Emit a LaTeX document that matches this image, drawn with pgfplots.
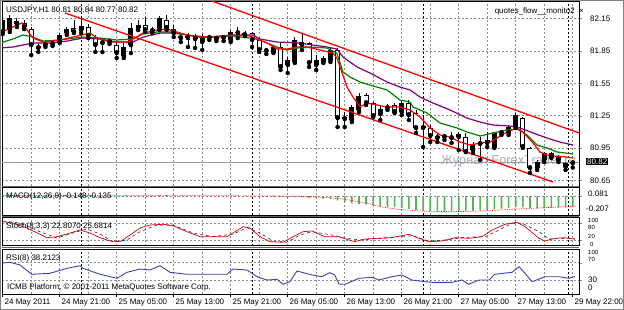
\documentclass[border=0pt]{standalone}
\usepackage{fontspec}
\setmainfont{Liberation Sans}
\usepackage{pgfplots}
\usepackage{pgfplotstable}
\pgfplotsset{compat=1.18}
\definecolor{mapurple}{RGB}{128,0,128}
\definecolor{magreen}{RGB}{0,128,0}
\definecolor{histgreen}{RGB}{90,175,90}
\definecolor{rsiblue}{RGB}{64,64,170}
\definecolor{stnavy}{RGB}{30,30,110}
\definecolor{pricegray}{RGB}{150,160,175}
\newcommand\ff{\fontsize{8}{9}\selectfont}
\newcommand\fs{\fontsize{6}{6.5}\selectfont}

\pgfplotstableread{
i o h l c
0 82.025 82.164 82.006 82.136
1 82.052 82.182 82.025 82.154
2 82.127 82.154 82.071 82.099
3 82.108 82.136 82.052 82.071
4 82.052 82.071 81.812 81.904
5 81.877 81.923 81.840 81.895
6 81.904 81.951 81.886 81.923
7 81.923 81.941 81.895 81.914
8 81.932 82.015 81.923 81.997
9 82.015 82.071 81.997 82.052
10 82.062 82.136 82.015 82.025
11 82.043 82.154 82.015 82.080
12 82.071 82.099 81.969 81.988
13 81.978 81.997 81.840 81.904
14 81.932 81.969 81.840 81.923
15 81.932 81.969 81.914 81.951
16 81.904 81.932 81.784 81.830
17 81.802 81.923 81.784 81.886
18 81.904 82.108 81.830 82.062
19 82.062 82.136 82.043 82.090
20 82.090 82.164 82.025 82.043
21 82.052 82.071 82.015 82.034
22 82.062 82.173 82.043 82.154
23 82.136 82.182 82.043 82.062
24 82.052 82.090 81.978 82.015
25 81.988 82.015 81.932 81.969
26 81.969 82.015 81.886 81.988
27 81.978 82.006 81.877 81.960
28 81.932 82.006 81.858 81.978
29 81.969 81.997 81.951 81.978
30 81.978 81.988 81.941 81.960
31 81.969 81.997 81.941 81.978
32 81.951 82.043 81.932 82.025
33 82.025 82.071 81.969 82.015
34 81.997 82.034 81.988 82.015
35 82.015 82.025 81.886 81.951
36 81.951 81.969 81.840 81.858
37 81.858 81.877 81.821 81.849
38 81.840 81.895 81.830 81.886
39 81.886 81.923 81.673 81.701
40 81.719 81.793 81.645 81.765
41 81.747 81.978 81.738 81.951
42 81.932 82.015 81.858 81.904
43 81.923 81.932 81.701 81.738
44 81.719 81.812 81.673 81.765
45 81.747 81.802 81.738 81.784
46 81.765 81.886 81.747 81.858
47 81.858 81.877 81.145 81.228
48 81.219 81.284 81.145 81.238
49 81.210 81.349 81.191 81.330
50 81.303 81.460 81.284 81.432
51 81.441 81.460 81.349 81.367
52 81.367 81.377 81.238 81.247
53 81.265 81.349 81.210 81.312
54 81.321 81.358 81.303 81.340
55 81.349 81.367 81.275 81.284
56 81.284 81.395 81.256 81.367
57 81.367 81.395 81.210 81.256
58 81.275 81.303 81.090 81.136
59 81.154 81.256 80.960 81.136
60 81.136 81.164 81.006 81.062
61 81.062 81.090 81.006 81.043
62 81.053 81.080 81.025 81.062
63 81.053 81.099 80.997 81.043
64 81.053 81.099 80.932 81.080
65 81.053 81.090 80.914 80.914
66 80.932 81.006 80.904 80.988
67 80.988 81.053 80.840 81.006
68 81.025 81.099 80.960 80.997
69 80.960 81.099 80.951 81.090
70 81.090 81.117 81.071 81.099
71 81.090 81.164 81.071 81.145
72 81.145 81.275 81.136 81.256
73 81.228 81.238 80.951 80.960
74 80.951 80.960 80.719 80.765
75 80.765 80.840 80.747 80.821
76 80.840 80.914 80.821 80.904
77 80.904 80.914 80.858 80.867
78 80.877 80.886 80.821 80.840
79 80.775 80.821 80.747 80.812
80 80.810 80.840 80.770 80.820
}\candles

\pgfplotstableread{
i v
0 0.010
1 0.012
2 0.012
3 0.010
4 0.004
5 -0.002
6 -0.004
7 -0.006
8 -0.004
9 0.000
10 0.004
11 0.006
12 0.004
13 -0.002
14 -0.004
15 -0.006
16 -0.008
17 -0.008
18 -0.002
19 0.004
20 0.008
21 0.010
22 0.012
23 0.012
24 0.010
25 0.006
26 0.004
27 0.002
28 0.000
29 -0.002
30 -0.002
31 -0.002
32 0.000
33 0.002
34 0.002
35 0.000
36 -0.004
37 -0.008
38 -0.010
39 -0.016
40 -0.020
41 -0.016
42 -0.018
43 -0.025
44 -0.030
45 -0.035
46 -0.035
47 -0.060
48 -0.075
49 -0.100
50 -0.110
51 -0.112
52 -0.125
53 -0.138
54 -0.145
55 -0.150
56 -0.158
57 -0.175
58 -0.188
59 -0.198
60 -0.204
61 -0.206
62 -0.207
63 -0.205
64 -0.202
65 -0.200
66 -0.196
67 -0.190
68 -0.185
69 -0.178
70 -0.168
71 -0.160
72 -0.150
73 -0.150
74 -0.160
75 -0.165
76 -0.165
77 -0.160
78 -0.156
79 -0.152
80 -0.148
}\macd

\pgfplotsset{
  panel/.style={
    scale only axis, width=577pt, xmin=-0.098, xmax=80.88,
    anchor=north west,
    axis line style={black, line width=0.7pt},
    xtick={0,8,...,80}, minor xtick={4,12,...,76},
    xticklabels={}, yticklabels={},
    xmajorgrids, xminorgrids,
    grid style={dash pattern=on 2pt off 2pt, black!45, line width=0.5pt},
    minor grid style={dash pattern=on 2pt off 2pt, black!45, line width=0.5pt},
    xtick style={draw=none}, minor tick length=0pt,
    major tick length=3pt, ytick pos=right, ytick align=outside,
    extra x ticks={11,35,59,79.4}, extra x tick labels={},
    extra x tick style={grid style={dash pattern=on 2pt off 2pt, black, line width=0.6pt}, xtick style={draw=none}},
  },
}

\begin{document}
\begin{tikzpicture}
\path[use as bounding box] (0pt,0pt) rectangle (624pt,-310pt);
\fill[white] (0pt,0pt) rectangle (624pt,-310pt);

% watermark
\node[anchor=west, inner sep=0pt, text=black!33, font=\fontsize{12.8}{14}\selectfont] at (441pt,-161pt) {Журнал ForexTrader.ru};

% ---------------- main price panel
\begin{axis}[panel, at={(2pt,-1pt)}, height=185pt,
  ymin=80.599, ymax=82.312,
  ytick={80.65,80.95,81.25,81.55,81.85,82.15},
  ymajorgrids]
  \addplot[pricegray, line width=0.7pt] coordinates {(-1,80.82) (82,80.82)};
  % wicks
  \addplot[only marks, mark=none, error bars/.cd, y dir=plus, y explicit, error mark=none,
    error bar style={draw=black, line width=0.9pt}]
    table[x=i, y=l, y error plus expr=\thisrow{h}-\thisrow{l}] {\candles};
  % bodies outline / bull fill
  \addplot[only marks, mark=none, error bars/.cd, y dir=plus, y explicit, error mark=none,
    error bar style={draw=black, line width=5pt}]
    table[x=i, y expr={min(\thisrow{o},\thisrow{c})}, y error plus expr={max(abs(\thisrow{c}-\thisrow{o}),0.009)}] {\candles};
  % bear bodies white
  \addplot[only marks, mark=none, error bars/.cd, y dir=plus, y explicit, error mark=none,
    error bar style={draw=white, line width=3.2pt}]
    table[x=i, y expr={min(\thisrow{o},\thisrow{c})+0.0075}, y error plus expr={(\thisrow{c}<\thisrow{o}) ? max(abs(\thisrow{c}-\thisrow{o})-0.015,0) : 0}] {\candles};
  % moving averages
  \addplot[mapurple, line width=1.2pt] coordinates {
    (-0.38,81.877) (1.45,81.886) (4.25,81.923) (6.64,81.923) (9.02,81.941) (11.27,81.969) (13.66,81.960) (16.04,81.932) (18.29,81.932) (19.69,81.978) (22.08,82.015) (23.9,82.015) (25.87,81.997) (28.67,81.978) (32.32,81.997) (35.13,81.997) (36.1,81.960) (38.5,81.932) (41.73,81.923) (43.55,81.904) (45.5,81.886) (46.9,81.867) (47.76,81.793) (49.73,81.701) (51.55,81.645) (53.94,81.562) (55.76,81.515) (57.16,81.488) (58.57,81.423) (60.39,81.367) (62.78,81.303) (65.17,81.228) (66.99,81.191) (68.81,81.164) (71.2,81.154) (72.6,81.136) (74.43,81.090) (76.39,81.043) (78.2,81.006) (80.04,80.978)};
  \addplot[magreen, line width=1.2pt] coordinates {
    (-0.38,81.923) (1.45,81.960) (2.85,81.997) (4.25,81.978) (5.66,81.941) (8.04,81.951) (11.13,81.978) (13.66,81.969) (16.04,81.951) (18.29,81.960) (19.69,82.006) (21.66,82.025) (23.9,82.025) (25.87,81.997) (27.69,81.978) (32.32,81.988) (35.7,81.960) (37.1,81.923) (38.5,81.886) (39.9,81.858) (41.3,81.877) (43.13,81.886) (45.5,81.877) (46.9,81.830) (47.76,81.654) (48.74,81.608) (50.15,81.562) (51.55,81.534) (53.94,81.488) (55.76,81.395) (57.16,81.377) (57.59,81.330) (59.55,81.275) (61.38,81.182) (63.76,81.136) (65.17,81.099) (66.99,81.062) (68.81,81.090) (70.78,81.117) (72.18,81.127) (73.58,81.071) (74.99,80.978) (76.39,80.951) (77.8,80.914) (80.04,80.895)};
  \addplot[red, line width=1.2pt] coordinates {
    (-0.38,82.015) (2.0,82.090) (2.71,82.108) (4.25,81.969) (5.66,81.932) (8.04,81.951) (11.13,81.997) (12.25,82.015) (13.24,81.969) (15.06,81.932) (17.45,81.932) (18.29,81.960) (19.69,82.015) (21.66,82.043) (23.06,82.052) (24.46,82.025) (25.87,81.997) (27.69,81.978) (30.5,81.978) (32.32,81.997) (34.7,81.988) (35.7,81.960) (37.1,81.923) (38.5,81.867) (39.9,81.867) (41.3,81.886) (42.7,81.886) (44.53,81.858) (46.36,81.830) (46.9,81.784) (47.34,81.701) (48.32,81.515) (49.16,81.423) (50.15,81.330) (51.13,81.367) (52.53,81.349) (53.94,81.330) (55.76,81.330) (57.16,81.303) (58.57,81.238) (59.97,81.136) (61.38,81.071) (62.78,81.053) (64.18,81.006) (65.59,80.978) (66.99,80.997) (68.39,81.006) (69.37,81.043) (70.78,81.099) (72.18,81.136) (73.02,81.099) (74.43,80.997) (75.4,80.914) (76.39,80.886) (77.23,80.877) (79.2,80.867) (80.04,80.858)};
  % channel
  \addplot[red, line width=1.3pt] coordinates {(28,82.344) (80.88,81.090)};
  \addplot[red, line width=1.3pt] coordinates {(8.74,82.201) (77.23,80.636)};
\end{axis}

% ---------------- MACD
\begin{axis}[panel, at={(2pt,-187pt)}, height=28pt,
  ymin=-0.2537, ymax=0.1202, ytick={0}, ymajorgrids,
  grid style={dash pattern=on 2pt off 2pt, black!45, line width=0.5pt}]
  \addplot[ybar, bar width=1.7pt, fill=histgreen, draw=none] table[x=i, y=v] {\macd};
  \addplot[red, densely dotted, line width=0.7pt] coordinates {
    (-0.1,0.006) (10,0.006) (20,0.004) (30,0.004) (40,-0.002) (44,-0.012) (47.8,-0.04) (51.1,-0.095) (53.4,-0.15) (55.8,-0.182) (58.6,-0.200) (62.8,-0.210) (67.4,-0.200) (72.2,-0.174) (76.8,-0.152) (79.2,-0.143) (80.5,-0.135)};
\end{axis}

% ---------------- Stochastic
\begin{axis}[panel, at={(2pt,-217.3pt)}, height=28.4pt,
  ymin=0, ymax=100, ytick={20,80}, ymajorgrids]
  \addplot[stnavy, dashed, line width=0.6pt] coordinates {
    (0.08,87) (2.43,79.9) (5.24,49.3) (7.62,27.1) (10.43,49.3) (11.83,58.8) (13.66,41.2) (15.48,14.1) (17.45,20.1) (19.27,49.3) (21.66,72.9) (23.9,72.9) (26.71,44.7) (29.52,31.7) (32.32,41.2) (34.29,63.4) (36.11,44.7) (37.94,16.5) (39.9,12.0) (41.73,37.7) (43.41,49.3) (46.2,37.7) (48.04,26.1) (50.43,20.1) (52.8,26.1) (55.6,31.7) (57.4,35.2) (59.8,16.5) (62.08,20.1) (64.88,29.6) (67.69,31.7) (69.66,55.3) (71.48,78.9) (72.88,78.9) (75.27,49.3) (76.67,23.6) (78.9,26.1) (80.3,25.7)};
  \addplot[red!85!black, line width=0.7pt] coordinates {
    (0.08,84.5) (1.45,79.9) (3.41,62.3) (6.22,28.2) (7.62,31.7) (9.02,41.2) (10.85,55.3) (12.25,44.7) (13.66,28.2) (15.06,16.5) (16.46,14.1) (17.87,37.7) (19.27,62.3) (20.67,72.9) (22.5,75.4) (23.9,70.4) (25.87,49.3) (27.69,31.7) (31.48,31.7) (32.32,44.7) (33.73,66.9) (34.7,62.3) (36.11,31.7) (37.5,14.1) (39.34,12.0) (40.74,31.7) (42.15,49.3) (43.41,51.8) (45.2,31.7) (47.2,31.7) (48.6,20.1) (49.4,14.1) (50.85,23.6) (52.8,26.1) (54.6,28.2) (57.0,40.1) (58.4,26.1) (59.8,14.1) (61.66,16.5) (63.48,28.2) (65.44,26.1) (67.27,31.7) (68.67,55.3) (70.5,75.4) (72.18,82.4) (73.3,66.9) (75.27,26.1) (76.1,16.5) (77.5,26.1) (78.9,28.2) (80.3,22.8)};
\end{axis}

% ---------------- RSI
\begin{axis}[panel, at={(2pt,-249pt)}, height=45pt,
  ymin=-2.3, ymax=101.6, ytick={30,70}, ymajorgrids,
  xtick style={draw=black, line width=0.6pt}, xtick pos=bottom, xtick align=outside]
  \addplot[rsiblue, line width=0.9pt] coordinates {
    (-0.38,68.6) (1.02,70.9) (2.43,64.7) (4.07,43.2) (6.64,45.5) (9.02,57.0) (10.85,63.0) (11.27,57.0) (13.66,43.2) (16.04,33.9) (17.45,47.8) (19.27,55.4) (20.67,53.1) (22.08,63.0) (23.48,47.8) (25.87,43.2) (27.69,43.2) (31.48,43.2) (32.32,55.4) (34.29,53.1) (35.69,37.6) (37.1,30.0) (38.5,31.6) (39.34,20.1) (40.3,26.1) (41.3,50.8) (43.41,41.6) (44.8,37.6) (45.9,46.9) (46.6,41.6) (47.2,20.8) (48.04,20.1) (50.0,33.9) (51.83,36.3) (52.8,30.0) (54.6,37.6) (56.04,41.6) (57.4,30.0) (59.3,26.1) (60.25,24.7) (63.06,24.7) (64.46,30.0) (65.4,20.1) (66.85,30.0) (68.25,30.0) (69.06,43.2) (71.48,47.8) (72.46,60.7) (73.3,45.5) (74.3,26.1) (76.1,37.6) (78.08,37.6) (79.48,33.9) (80.3,38.2)};
\end{axis}

% panel separators
\draw[black!60, line width=1pt] (2pt,-186.5pt) -- (579pt,-186.5pt);
\draw[black!60, line width=1pt] (2pt,-216.4pt) -- (579pt,-216.4pt);
\draw[black!60, line width=1pt] (2pt,-247.2pt) -- (579pt,-247.2pt);

% ---------------- texts
\node[anchor=west, inner sep=0pt, font=\ff] at (6pt,-10pt) {USDJPY,H1  80.81 80.84 80.77 80.82};
\node[anchor=east, inner sep=0pt, font=\ff] at (575pt,-11pt) {quotes\_flow\_\_monito2};
\node[anchor=west, inner sep=0pt, font=\ff] at (579pt,-11pt) {×};
\node[anchor=west, inner sep=0pt, font=\ff] at (6pt,-196pt) {MACD(12,26,9) -0.148 -0.135};
\node[anchor=west, inner sep=0pt, font=\ff] at (6pt,-226pt) {Stoch(8,3,3) 22.8070 25.6814};
\node[anchor=west, inner sep=0pt, font=\ff] at (6pt,-258pt) {RSI(8) 38.2123};
\node[anchor=west, inner sep=0pt, font=\ff] at (7pt,-287pt) {ICMB Platform, © 2001-2011 MetaQuotes Software Corp.};

% right scale labels
\foreach \p/\yy in {82.15/18.5, 81.85/50.9, 81.55/83.3, 81.25/115.7, 80.95/148.1, 80.65/180.5}
  \node[anchor=west, inner sep=0pt, font=\ff] at (590pt,-\yy pt) {\p};
\node[anchor=west, inner sep=1pt, fill=black, text=white, font=\ff] at (586pt,-161.5pt) {80.82};
\node[anchor=west, inner sep=0pt, font=\ff] at (588pt,-194pt) {0.081};
\node[anchor=west, inner sep=0pt, font=\ff] at (586pt,-209pt) {-0.207};
\node[anchor=west, inner sep=0pt, font=\fs] at (588pt,-220.3pt) {100};
\node[anchor=west, inner sep=0pt, font=\fs] at (588pt,-227.8pt) {80};
\node[anchor=west, inner sep=0pt, font=\fs] at (588pt,-236.5pt) {20};
\node[anchor=west, inner sep=0pt, font=\fs] at (590pt,-244pt) {0};
\node[anchor=west, inner sep=0pt, font=\fs] at (588pt,-252.3pt) {100};
\node[anchor=west, inner sep=0pt, font=\fs] at (588pt,-259.8pt) {70};
\node[anchor=west, inner sep=0pt, font=\ff] at (588pt,-280pt) {30};
\node[anchor=west, inner sep=0pt, font=\ff] at (588pt,-288pt) {0};

% date labels
\foreach \xx/\t in {2.7/24 May 2011, 59.7/24 May 21:00, 116.7/25 May 05:00, 173.7/25 May 13:00, 230.7/25 May 21:00, 287.7/26 May 05:00, 344.7/26 May 13:00, 401.7/26 May 21:00, 458.7/27 May 05:00, 515.7/27 May 13:00, 572.7/29 May 22:00}
  \node[anchor=west, inner sep=0pt, font=\ff] at (\xx pt+1.8pt,-303pt) {\t};

\draw[black!50, line width=0.8pt] (0.4pt,-0.4pt) rectangle (623.6pt,-309.6pt);
\end{tikzpicture}
\end{document}
